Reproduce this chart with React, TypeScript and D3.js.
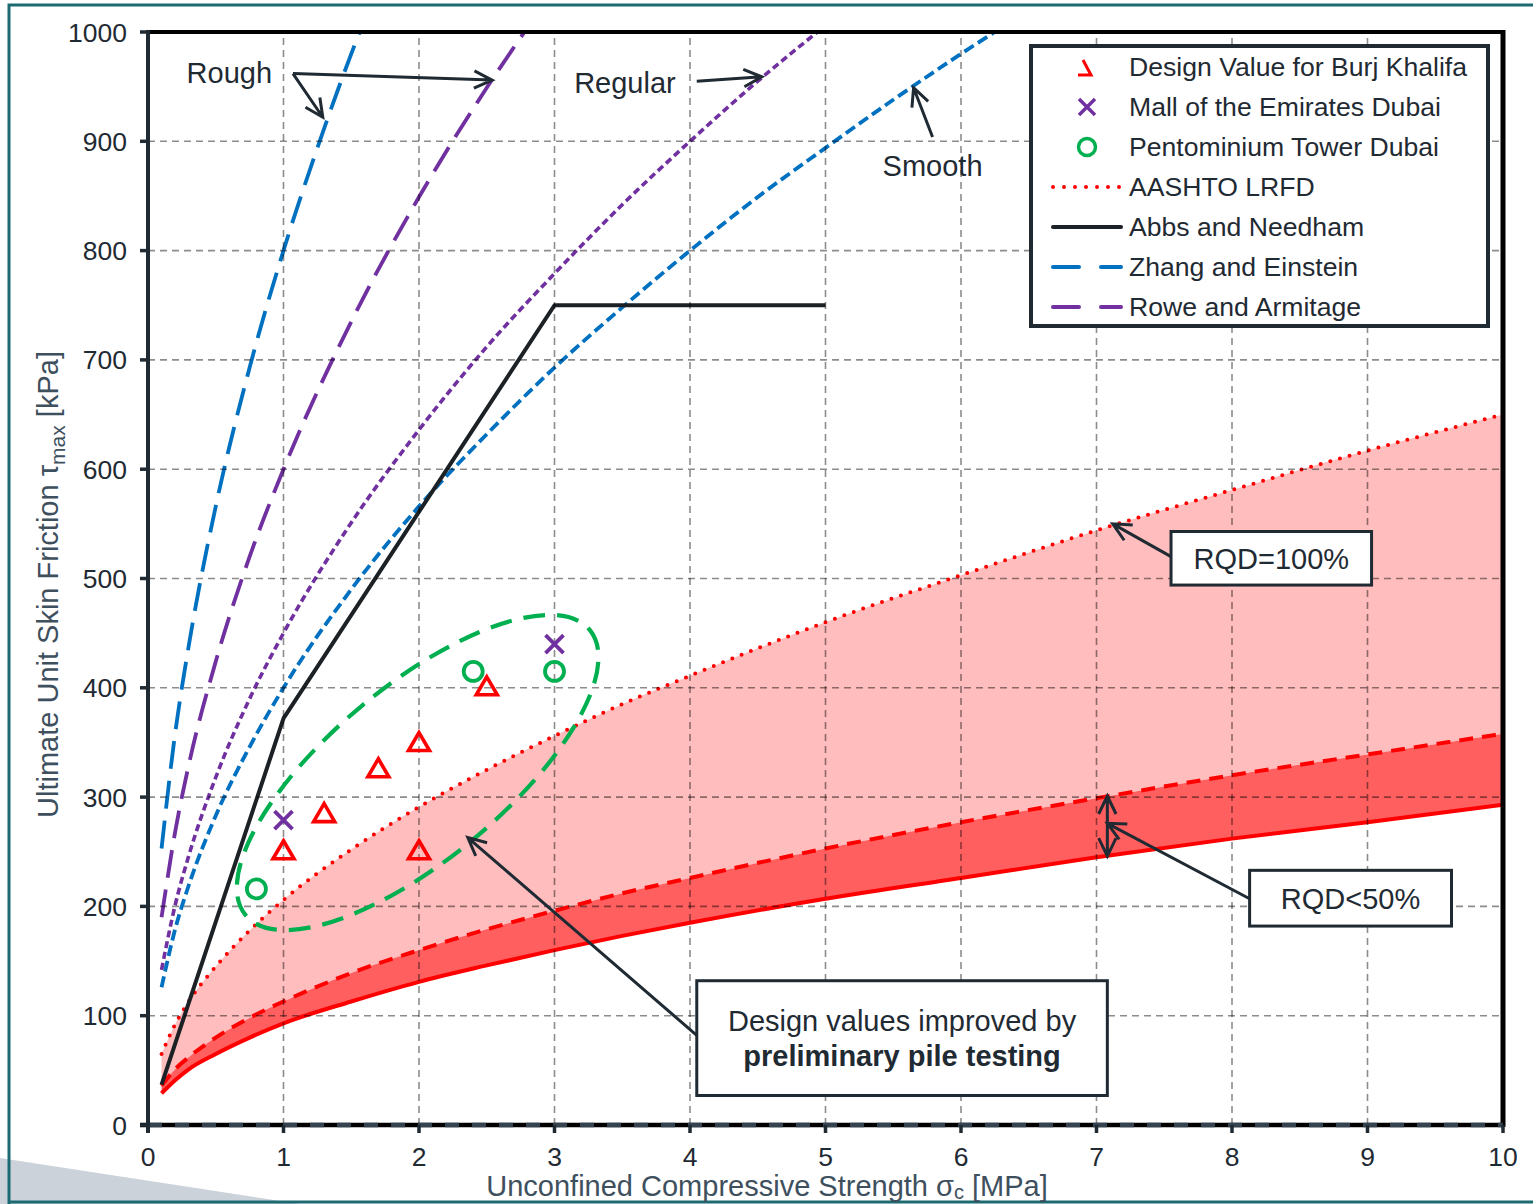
import { useEffect, useRef } from 'react'
import * as d3 from 'd3'

const W = 1533
const H = 1204

const xTicks = d3.range(0, 11)
const yTicks = d3.range(0, 1001, 100)

// AASHTO LRFD and the RQD<50% band (kPa)
const bandX = [0.1, 0.2, 0.3, 0.5, 0.75, 1, 1.5, 2, 2.5, 3, 3.5, 4, 5, 6, 7, 8, 9, 10]
const aashto = [65, 92, 113, 145, 178, 206, 252, 291, 325, 356, 385, 411, 460, 503, 544, 581, 617, 650]
const rqdUpper = [36, 51, 62, 80, 98, 113, 139, 160, 179, 196, 212, 226, 253, 277, 299, 320, 339, 358]
const rqdLower = [29, 41, 51, 65, 80, 93, 113, 131, 146, 160, 173, 185, 207, 226, 245, 262, 277, 293]

// Abbs and Needham
const abbsX = [0.1, 1, 3, 5]
const abbs = [37, 372, 750, 750]

// Zhang and Einstein
const zhangRoughX = [0.1, 0.2, 0.3, 0.5, 0.75, 1, 1.25, 1.5, 1.6]
const zhangRough = [253, 358, 438, 566, 693, 800, 894, 980, 1012]
const zhangSmoothX = [0.1, 0.2, 0.3, 0.5, 0.75, 1, 1.5, 2, 2.5, 3, 3.5, 4, 4.5, 5, 5.5, 6, 6.5]
const zhangSmooth = [126, 179, 219, 283, 346, 400, 490, 566, 632, 693, 748, 800, 849, 894, 938, 980, 1020]

// Rowe and Armitage
const roweRoughX = [0.1, 0.2, 0.3, 0.5, 0.75, 1, 1.5, 2, 2.5, 2.8]
const roweRough = [190, 268, 329, 424, 520, 600, 735, 849, 949, 1004]
const roweRegularX = [0.1, 0.2, 0.3, 0.5, 0.75, 1, 1.5, 2, 2.5, 3, 3.5, 4, 4.5, 5, 5.2]
const roweRegular = [142, 201, 246, 318, 390, 450, 551, 636, 712, 779, 842, 900, 955, 1006, 1026]

// case histories
const burjX = [1, 1.3, 1.7, 2, 2, 2.5]
const burj = [250, 284, 325, 349, 250, 400]
const mallX = [1, 3]
const mall = [279, 440]
const pentoX = [0.8, 2.4, 3]
const pento = [216, 415, 415]

const legendItems = [
  'Design Value for Burj Khalifa',
  'Mall of the Emirates Dubai',
  'Pentominium Tower Dubai',
  'AASHTO LRFD',
  'Abbs and Needham',
  'Zhang and Einstein',
  'Rowe and Armitage',
]

const FONT = "'Liberation Sans', Arial, sans-serif"
const INK = '#1f2a33'
const RED = '#ff0000'
const BLUE = '#0070c0'
const PURPLE = '#7030a0'
const GREEN = '#00b050'

export default function App() {
  const svgRef = useRef<SVGSVGElement>(null)

  useEffect(() => {
    if (!svgRef.current) return
    const svg = d3.select(svgRef.current)
    svg.selectAll('*').remove()

    const x = d3.scaleLinear().domain([0, 10]).range([148, 1503])
    const y = d3.scaleLinear().domain([0, 1000]).range([1125, 32])

    // page frame
    svg.append('rect').attr('width', W).attr('height', H).attr('fill', '#fff')
    svg.append('path').attr('d', 'M0,1158 L300,1204 L0,1204Z').attr('fill', '#cbd2da')
    svg.append('path')
      .attr('d', `M9,${H} L9,5 L${W},5 M9,1202 L${W},1202`)
      .attr('fill', 'none').attr('stroke', '#1e6a73').attr('stroke-width', 3)

    svg.append('defs').append('clipPath').attr('id', 'plotclip')
      .append('rect')
      .attr('x', x(0)).attr('y', y(1000))
      .attr('width', x(10) - x(0)).attr('height', y(0) - y(1000))

    const plot = svg.append('g').attr('clip-path', 'url(#plotclip)')

    // bands
    const band = (top: number[], bottom: number[]) =>
      d3.area<number>()
        .x(d => x(d))
        .y0((_, i) => y(bottom[i]))
        .y1((_, i) => y(top[i]))
        .curve(d3.curveMonotoneX)

    plot.append('path').datum(bandX).attr('d', band(aashto, rqdUpper)).attr('fill', '#ffbdbd')
    plot.append('path').datum(bandX).attr('d', band(rqdUpper, rqdLower)).attr('fill', '#ff5f5f')

    // grid
    const grid = svg.append('g')
      .attr('stroke', '#000').attr('stroke-opacity', 0.45)
      .attr('stroke-width', 1.6).attr('stroke-dasharray', '7,5')
    xTicks.filter(t => t > 0 && t < 10).forEach(t => {
      grid.append('line').attr('x1', x(t)).attr('x2', x(t)).attr('y1', y(0)).attr('y2', y(1000))
    })
    yTicks.filter(t => t > 0 && t < 1000).forEach(t => {
      grid.append('line').attr('x1', x(0)).attr('x2', x(10)).attr('y1', y(t)).attr('y2', y(t))
    })

    const curve = (xs: number[], ys: number[], linear = false) =>
      d3.line<number>()
        .x(d => x(d))
        .y((_, i) => y(ys[i]))
        .curve(linear ? d3.curveLinear : d3.curveMonotoneX)(xs)

    const drawLine = (d: string | null, color: string, width: number, dash?: string, cap = 'butt') => {
      const p = plot.append('path').attr('d', d).attr('fill', 'none')
        .attr('stroke', color).attr('stroke-width', width)
        .attr('stroke-linecap', cap).attr('stroke-linejoin', 'round')
      if (dash) p.attr('stroke-dasharray', dash)
    }

    drawLine(curve(bandX, rqdLower), RED, 4)
    drawLine(curve(bandX, rqdUpper), RED, 4, '14,9')
    drawLine(curve(bandX, aashto), RED, 4, '0,10', 'round')
    drawLine(curve(zhangRoughX, zhangRough), BLUE, 3.8, '28,12')
    drawLine(curve(zhangSmoothX, zhangSmooth), BLUE, 3.8, '11,5')
    drawLine(curve(roweRoughX, roweRough), PURPLE, 3.8, '28,12')
    drawLine(curve(roweRegularX, roweRegular), PURPLE, 3.6, '7,4')
    drawLine(curve(abbsX, abbs, true), '#1c2126', 4)

    // markers
    const tri = (cx: number, cy: number) => `M${cx},${cy - 11}L${cx + 10.5},${cy + 7}L${cx - 10.5},${cy + 7}Z`
    burjX.forEach((v, i) => {
      svg.append('path').attr('d', tri(x(v), y(burj[i])))
        .attr('fill', 'none').attr('stroke', RED).attr('stroke-width', 3.6).attr('stroke-linejoin', 'miter')
    })
    mallX.forEach((v, i) => {
      const cx = x(v), cy = y(mall[i]), s = 9
      svg.append('path').attr('d', `M${cx - s},${cy - s}L${cx + s},${cy + s}M${cx - s},${cy + s}L${cx + s},${cy - s}`)
        .attr('stroke', PURPLE).attr('stroke-width', 3.8)
    })
    pentoX.forEach((v, i) => {
      svg.append('circle').attr('cx', x(v)).attr('cy', y(pento[i])).attr('r', 9.5)
        .attr('fill', 'none').attr('stroke', GREEN).attr('stroke-width', 3.8)
    })

    // grouping ellipse around the case histories
    const e0 = [x(0.72), y(192)], e1 = [x(3.26), y(453)]
    const ecx = (e0[0] + e1[0]) / 2, ecy = (e0[1] + e1[1]) / 2
    const erx = Math.hypot(e1[0] - e0[0], e1[1] - e0[1]) / 2
    const eang = (Math.atan2(e1[1] - e0[1], e1[0] - e0[0]) * 180) / Math.PI
    svg.append('ellipse')
      .attr('cx', 0).attr('cy', 0).attr('rx', erx).attr('ry', 87)
      .attr('transform', `translate(${ecx},${ecy}) rotate(${eang})`)
      .attr('fill', 'none').attr('stroke', GREEN).attr('stroke-width', 4.2).attr('stroke-dasharray', '22,12')

    // axes frame
    svg.append('line').attr('x1', x(0)).attr('x2', x(10)).attr('y1', y(1000)).attr('y2', y(1000))
      .attr('stroke', '#000').attr('stroke-width', 4)
    svg.append('line').attr('x1', x(10)).attr('x2', x(10)).attr('y1', y(1000) - 2).attr('y2', y(0) + 2)
      .attr('stroke', '#000').attr('stroke-width', 5)
    svg.append('line').attr('x1', x(0) - 8).attr('x2', x(10)).attr('y1', y(0)).attr('y2', y(0))
      .attr('stroke', '#000').attr('stroke-width', 4.5)
    svg.append('line').attr('x1', x(0)).attr('x2', x(10)).attr('y1', y(0)).attr('y2', y(0))
      .attr('stroke', '#34434f').attr('stroke-width', 4.5).attr('stroke-dasharray', '14,13')
    svg.append('line').attr('x1', x(0)).attr('x2', x(0)).attr('y1', y(1000) - 2).attr('y2', y(0) + 8)
      .attr('stroke', INK).attr('stroke-width', 4)

    yTicks.forEach(t => {
      svg.append('line').attr('x1', x(0) - 8).attr('x2', x(0)).attr('y1', y(t)).attr('y2', y(t))
        .attr('stroke', INK).attr('stroke-width', 3.5)
      svg.append('text').attr('x', 127).attr('y', y(t)).attr('dy', '0.36em')
        .attr('text-anchor', 'end').attr('font-family', FONT).attr('font-size', 26.5)
        .attr('fill', INK).text(t)
    })
    xTicks.forEach(t => {
      svg.append('line').attr('x1', x(t)).attr('x2', x(t)).attr('y1', y(0)).attr('y2', y(0) + 8)
        .attr('stroke', INK).attr('stroke-width', 3.5)
      svg.append('text').attr('x', x(t)).attr('y', 1166)
        .attr('text-anchor', 'middle').attr('font-family', FONT).attr('font-size', 26.5)
        .attr('fill', INK).text(t)
    })

    // axis titles
    const xt = svg.append('text').attr('x', 767).attr('y', 1196)
      .attr('text-anchor', 'middle').attr('font-family', FONT).attr('font-size', 29).attr('fill', '#3e505e')
    xt.append('tspan').text('Unconfined Compressive Strength σ')
    xt.append('tspan').attr('dy', 3).attr('font-size', 20).text('c')
    xt.append('tspan').attr('dy', -3).text(' [MPa]')

    const yt = svg.append('text').attr('transform', `translate(58,${(y(0) + y(1000)) / 2 + 6}) rotate(-90)`)
      .attr('text-anchor', 'middle').attr('font-family', FONT).attr('font-size', 29).attr('fill', '#3e505e')
    yt.append('tspan').text('Ultimate Unit Skin Friction τ')
    yt.append('tspan').attr('dy', 7).attr('font-size', 21).text('max')
    yt.append('tspan').attr('dy', -7).text(' [kPa]')

    // annotations
    const ann = svg.append('g')
    const arrowHead = (x1: number, y1: number, x2: number, y2: number) => {
      const a = Math.atan2(y2 - y1, x2 - x1)
      const L = 20, s = 0.45
      return `M${x2 - L * Math.cos(a - s)},${y2 - L * Math.sin(a - s)}L${x2},${y2}L${x2 - L * Math.cos(a + s)},${y2 - L * Math.sin(a + s)}`
    }
    const arrow = (from: number[], to: number[], both = false) => {
      const [x1, y1, x2, y2] = [x(from[0]), y(from[1]), x(to[0]), y(to[1])]
      let d = `M${x1},${y1}L${x2},${y2}` + arrowHead(x1, y1, x2, y2)
      if (both) d += arrowHead(x2, y2, x1, y1)
      ann.append('path').attr('d', d).attr('fill', 'none')
        .attr('stroke', INK).attr('stroke-width', 3).attr('stroke-linejoin', 'miter')
    }
    const label = (tx: number, ty: number, s: string, bold = false) =>
      ann.append('text').attr('x', x(tx)).attr('y', y(ty)).attr('text-anchor', 'middle')
        .attr('font-family', FONT).attr('font-size', 29).attr('fill', INK)
        .attr('font-weight', bold ? 'bold' : 'normal').text(s)
    const box = (x0: number, y0: number, x1: number, y1: number) =>
      ann.append('rect').attr('x', x(x0)).attr('y', y(y0))
        .attr('width', x(x1) - x(x0)).attr('height', y(y1) - y(y0))
        .attr('fill', '#fff').attr('stroke', INK).attr('stroke-width', 3)

    label(0.6, 953, 'Rough')
    arrow([1.07, 962], [1.29, 922])
    arrow([1.07, 962], [2.54, 956])
    label(3.52, 944, 'Regular')
    arrow([4.05, 955], [4.53, 959])
    label(5.79, 868, 'Smooth')
    arrow([5.79, 904], [5.65, 949])

    arrow([7.55, 520], [7.12, 550])
    box(7.55, 543, 9.03, 494)
    label(8.29, 509, 'RQD=100%')

    arrow([7.08, 301], [7.08, 246], true)
    arrow([8.13, 207], [7.08, 276])
    box(8.13, 233, 9.62, 182)
    label(8.875, 198, 'RQD<50%')

    arrow([4.05, 82], [2.36, 263])
    box(4.05, 132, 7.08, 27)
    label(5.565, 86, 'Design values improved by')
    label(5.565, 54, 'preliminary pile testing', true)

    // legend
    const lg = svg.append('g')
    lg.append('rect').attr('x', 1031).attr('y', 46).attr('width', 457).attr('height', 280)
      .attr('fill', '#fff').attr('stroke', INK).attr('stroke-width', 4)
    legendItems.forEach((name, i) => {
      const cy = 67 + i * 40
      lg.append('text').attr('x', 1129).attr('y', cy + 9).attr('font-family', FONT)
        .attr('font-size', 26.6).attr('fill', INK).text(name)
    })
    const ly = (i: number) => 67 + i * 40
    lg.append('path').attr('d', `M1083,${ly(0) - 7}L1091,${ly(0) + 8}L1078,${ly(0) + 8}`)
      .attr('fill', 'none').attr('stroke', RED).attr('stroke-width', 3)
    lg.append('path').attr('d', `M1079,${ly(1) - 8}L1095,${ly(1) + 8}M1079,${ly(1) + 8}L1095,${ly(1) - 8}`)
      .attr('stroke', PURPLE).attr('stroke-width', 3.5)
    lg.append('circle').attr('cx', 1087).attr('cy', ly(2)).attr('r', 8.5)
      .attr('fill', 'none').attr('stroke', GREEN).attr('stroke-width', 3.5)
    const sample = (i: number, color: string, dash: string | null, cap = 'butt') => {
      const p = lg.append('line').attr('x1', 1053).attr('x2', 1121).attr('y1', ly(i)).attr('y2', ly(i))
        .attr('stroke', color).attr('stroke-width', 4).attr('stroke-linecap', cap)
      if (dash) p.attr('stroke-dasharray', dash)
    }
    sample(3, RED, '0,11', 'round')
    sample(4, '#1c2126', null, 'round')
    sample(5, BLUE, '26,22', 'round')
    sample(6, PURPLE, '26,22', 'round')
  }, [])

  return (
    <div style={{ position: 'absolute', left: 0, top: 0 }}>
      <svg ref={svgRef} width={W} height={H} style={{ display: 'block' }} />
    </div>
  )
}
